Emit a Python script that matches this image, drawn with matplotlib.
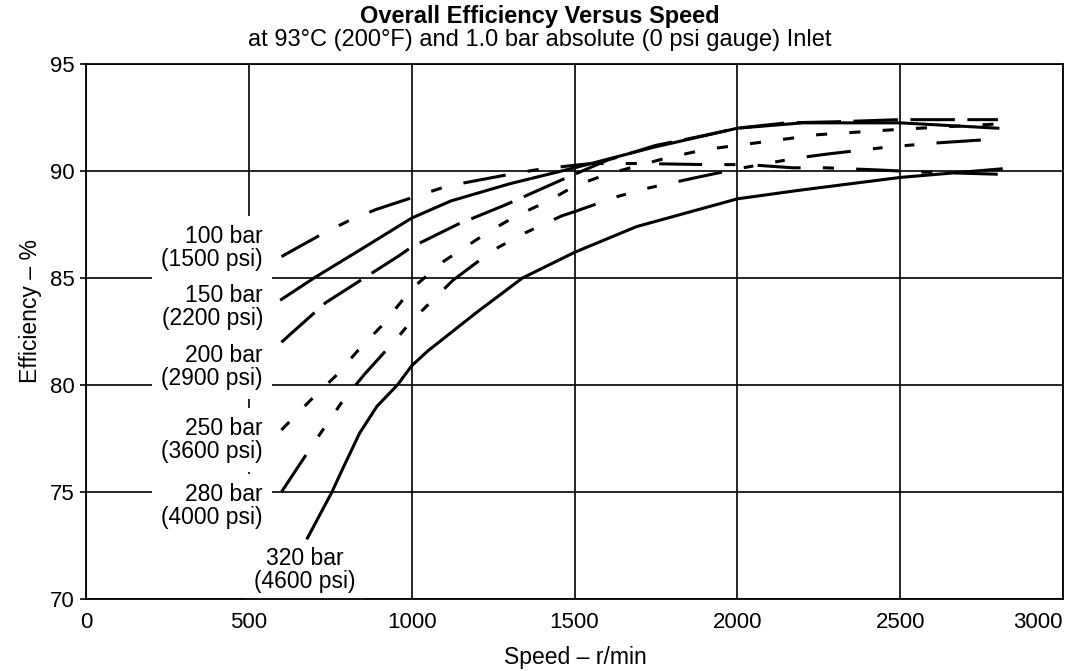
import matplotlib
matplotlib.use("Agg")
from matplotlib import pyplot as plt

plt.rcParams["font.family"] = ["Liberation Sans", "DejaVu Sans"]
plt.rcParams["lines.scale_dashes"] = False

# curves (speed r/min, efficiency %)
x_100 = [600, 730, 810, 890, 1020, 1110, 1320, 1400, 1550, 1710, 1900, 2030, 2170, 2270, 2430, 2570, 2800]
y_100 = [86.0, 87.1, 87.7, 88.2, 88.85, 89.3, 89.9, 90.1, 90.35, 90.35, 90.3, 90.3, 90.15, 90.15, 90.05, 89.95, 89.85]

x_150 = [600, 700, 840, 1000, 1120, 1300, 1500, 1740, 2000, 2200, 2500, 2800]
y_150 = [84.0, 85.0, 86.3, 87.8, 88.6, 89.4, 90.15, 91.1, 92.0, 92.25, 92.25, 92.0]

x_200 = [600, 736, 962, 1000, 1140, 1285, 1470, 1600, 1750, 1880, 2000, 2150, 2300, 2500, 2800]
y_200 = [82.0, 83.85, 86.05, 86.45, 87.5, 88.4, 89.65, 90.5, 91.2, 91.6, 92.0, 92.25, 92.3, 92.4, 92.4]

x_250 = [600, 690, 765, 840, 910, 1000, 1100, 1150, 1230, 1320, 1420, 1500, 1600, 1780, 1900, 2000, 2100, 2250, 2500, 2800]
y_250 = [77.9, 79.3, 80.4, 81.7, 82.8, 84.5, 85.8, 86.3, 87.1, 87.9, 88.6, 89.3, 89.85, 90.6, 91.0, 91.2, 91.4, 91.7, 91.95, 92.2]

x_280 = [600, 700, 790, 855, 950, 1000, 1127, 1250, 1340, 1460, 1500, 1630, 1725, 1875, 2000, 2180, 2280, 2450, 2600, 2800]
y_280 = [75.0, 77.3, 79.3, 80.5, 82.1, 83.0, 84.9, 86.3, 87.05, 87.9, 88.1, 88.8, 89.2, 89.7, 90.1, 90.6, 90.8, 91.1, 91.3, 91.5]

x_320 = [680, 755, 790, 840, 893, 956, 1000, 1050, 1200, 1340, 1500, 1690, 2000, 2190, 2500, 2810]
y_320 = [72.85, 75.0, 76.15, 77.75, 79.0, 80.0, 80.9, 81.6, 83.4, 85.0, 86.2, 87.4, 88.7, 89.1, 89.7, 90.1]

labels = ["100 bar\n(1500 psi)", "150 bar\n(2200 psi)", "200 bar\n(2900 psi)",
          "250 bar\n(3600 psi)", "280 bar\n(4000 psi)", "320 bar\n(4600 psi)"]

x_ticks = [0, 500, 1000, 1500, 2000, 2500, 3000]
y_ticks = [70, 75, 80, 85, 90, 95]

#%%
fig = plt.figure(figsize=(10.89, 6.71), dpi=100)
ax = fig.add_axes([0.079, 0.1073, 0.8972, 0.7973])

lw = 2.2
ax.plot(x_100, y_100, color="black", lw=lw, ls=(0, (31, 16, 8, 16)), zorder=5)
ax.plot(x_150, y_150, color="black", lw=lw, ls="-", zorder=5)
ax.plot(x_200, y_200, color="black", lw=lw, ls=(0, (32, 9)), zorder=5)
ax.plot(x_250, y_250, color="black", lw=lw, ls=(0, (8, 16)), zorder=5)
ax.plot(x_280, y_280, color="black", lw=lw, ls=(0, (32, 16, 7, 16, 7, 16)), zorder=5)
ax.plot(x_320, y_320, color="black", lw=lw, ls="-", zorder=5)

box = dict(boxstyle="square,pad=0.4", facecolor="white", edgecolor="none")
label_y = [86.4, 83.65, 80.84, 77.43, 74.35]
for txt, yy in zip(labels[:5], label_y):
    ax.text(543, yy, txt, ha="right", va="center", multialignment="right",
            fontsize=16.5, linespacing=1.0, bbox=box, zorder=4)
ax.text(672, 71.36, labels[5], ha="center", va="center", multialignment="center",
        fontsize=16.5, linespacing=1.0, bbox=box, zorder=4)

ax.set_xlim(0, 3000)
ax.set_ylim(70, 95)
ax.set_xticks(x_ticks)
ax.set_yticks(y_ticks)
ax.grid(True, color="black", lw=1.2)
ax.set_axisbelow(True)
for s in ax.spines.values():
    s.set_linewidth(1.3)
    s.set_zorder(6)

ax.tick_params(axis="x", length=0, pad=9, labelsize=16)
ax.tick_params(axis="y", length=4, width=1.2, pad=4, labelsize=16)
ax.get_xticklabels()[-1].set_ha("right")

fig.text(0.496, 1 - 17 / 671, "Overall Efficiency Versus Speed", ha="center", va="center",
         fontsize=17, fontweight="bold")
fig.text(0.496, 1 - 40 / 671, "at 93\u00b0C (200\u00b0F) and 1.0 bar absolute (0 psi gauge) Inlet",
         ha="center", va="center", fontsize=17)
fig.text(30 / 1089, 1 - 311 / 671, "Efficiency \u2013 %", rotation=90, ha="center", va="center",
         fontsize=16.5)
fig.text(575 / 1089, 2 / 671, "Speed \u2013 r/min", ha="center", va="bottom", fontsize=16.5)

fig.savefig("out.png", dpi=100)
